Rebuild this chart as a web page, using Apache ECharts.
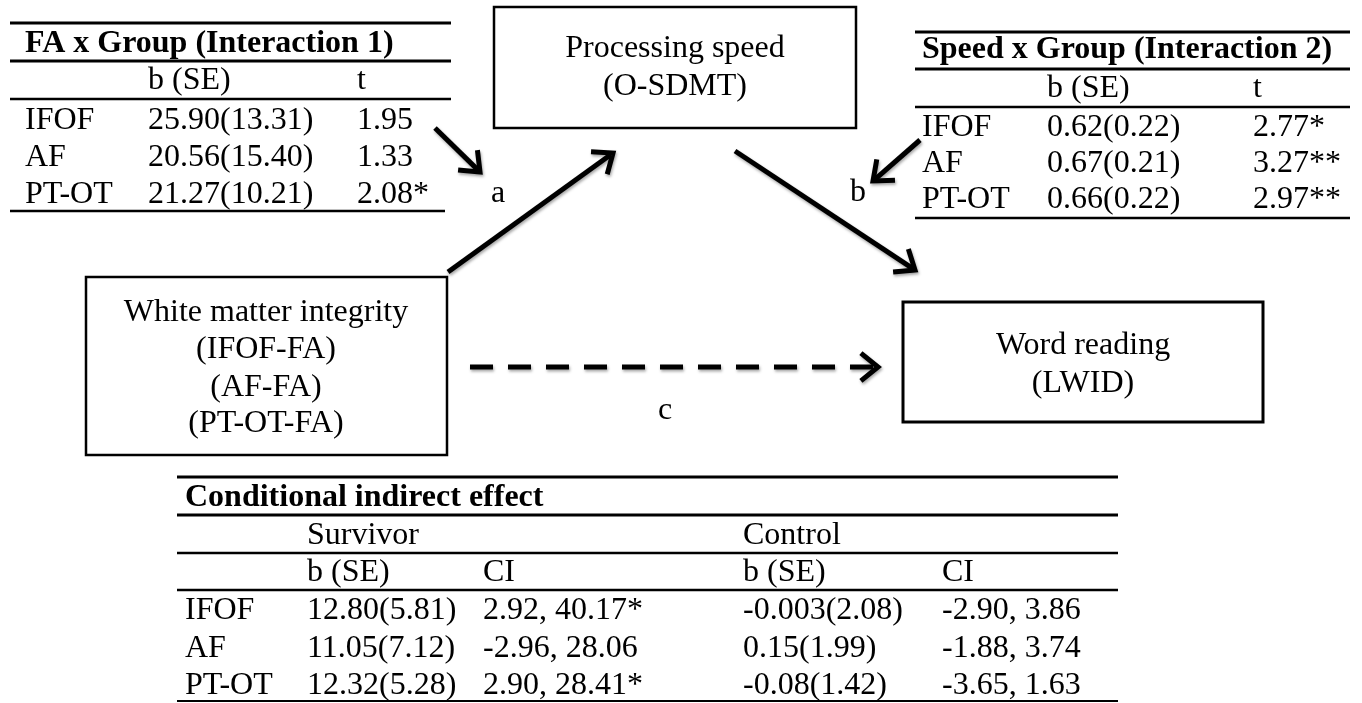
<!DOCTYPE html>
<html>
<head>
<meta charset="utf-8">
<script src="https://cdn.jsdelivr.net/npm/echarts@6/dist/echarts.min.js"></script>
<style>
html,body{margin:0;padding:0;background:#fff;}
#main{width:1362px;height:703px;}
</style>
</head>
<body>
<div id="main"></div>
<script>
// table data
var rowLabels = ['IFOF', 'AF', 'PT-OT'];
var int1Title = 'FA x Group (Interaction 1)';
var int1B = ['25.90(13.31)', '20.56(15.40)', '21.27(10.21)'];
var int1T = ['1.95', '1.33', '2.08*'];
var int2Title = 'Speed x Group (Interaction 2)';
var int2B = ['0.62(0.22)', '0.67(0.21)', '0.66(0.22)'];
var int2T = ['2.77*', '3.27**', '2.97**'];
var colHead = ['b (SE)', 't'];
var indTitle = 'Conditional indirect effect';
var groups = ['Survivor', 'Control'];
var indHead = ['b (SE)', 'CI', 'b (SE)', 'CI'];
var survB = ['12.80(5.81)', '11.05(7.12)', '12.32(5.28)'];
var survCI = ['2.92, 40.17*', '-2.96, 28.06', '2.90, 28.41*'];
var ctrlB = ['-0.003(2.08)', '0.15(1.99)', '-0.08(1.42)'];
var ctrlCI = ['-2.90, 3.86', '-1.88, 3.74', '-3.65, 1.63'];
var boxes = [
  ['Processing speed', '(O-SDMT)'],
  ['White matter integrity', '(IFOF-FA)', '(AF-FA)', '(PT-OT-FA)'],
  ['Word reading', '(LWID)']
];
var pathLabels = ['a', 'b', 'c'];

var FONT = '"Liberation Serif", "Times New Roman", serif';
var FS = 32;
var DY = 1; // small nudge so cap centres sit where the reference has them
var els = [];

function txt(s, x, y, bold, align) {
  els.push({
    type: 'text', x: x, y: y + DY,
    style: {
      text: s, fill: '#000',
      font: (bold ? 'bold ' : '') + FS + 'px ' + FONT,
      textAlign: align || 'left', textVerticalAlign: 'middle'
    }
  });
}
function hline(x1, x2, y, w) {
  els.push({ type: 'line', shape: { x1: x1, y1: y, x2: x2, y2: y }, style: { stroke: '#000', lineWidth: w || 2.5 } });
}
function box(x, y, w, h, lw) {
  els.push({ type: 'rect', shape: { x: x, y: y, width: w, height: h }, style: { fill: 'transparent', stroke: '#000', lineWidth: lw || 2.5 } });
}
var shadow = { shadowBlur: 3, shadowColor: 'rgba(0,0,0,0.35)', shadowOffsetX: 1, shadowOffsetY: 2 };
function arrow(x1, y1, x2, y2, dashed) {
  var ang = Math.atan2(y2 - y1, x2 - x1), L = 22, sp = 0.68;
  var st = Object.assign({ stroke: '#000', lineWidth: 5, lineCap: 'butt' }, shadow);
  if (dashed) st.lineDash = [23, 15];
  els.push({ type: 'line', shape: { x1: x1, y1: y1, x2: x2 - 3 * Math.cos(ang), y2: y2 - 3 * Math.sin(ang) }, style: st });
  els.push({
    type: 'polyline',
    shape: { points: [
      [x2 - L * Math.cos(ang - sp), y2 - L * Math.sin(ang - sp)],
      [x2, y2],
      [x2 - L * Math.cos(ang + sp), y2 - L * Math.sin(ang + sp)]
    ] },
    style: Object.assign({ stroke: '#000', fill: 'none', lineWidth: 5, lineJoin: 'miter' }, shadow)
  });
}

// interaction 1 table (top left)
hline(10, 451, 23, 3); hline(10, 451, 61, 3); hline(10, 451, 99, 2.5); hline(10, 445, 211, 2.5);
txt(int1Title, 25, 43, true);
txt(colHead[0], 148, 80); txt(colHead[1], 357, 80);
var r1 = [120, 157, 194];
rowLabels.forEach(function (l, i) {
  txt(l, 25, r1[i]); txt(int1B[i], 148, r1[i]); txt(int1T[i], 357, r1[i]);
});

// interaction 2 table (top right)
hline(915, 1350, 32, 3); hline(915, 1350, 69, 3); hline(915, 1350, 107, 2.5); hline(915, 1350, 218, 2.5);
txt(int2Title, 922, 49, true);
txt(colHead[0], 1047, 88); txt(colHead[1], 1253, 88);
var r2 = [127, 163, 199];
rowLabels.forEach(function (l, i) {
  txt(l, 922, r2[i]); txt(int2B[i], 1047, r2[i]); txt(int2T[i], 1253, r2[i]);
});

// boxes
box(494, 7, 362, 121, 2.5);
txt(boxes[0][0], 675, 48, false, 'center'); txt(boxes[0][1], 675, 86, false, 'center');
box(86, 277, 361, 178, 2.5);
[312, 349, 387, 423].forEach(function (y, i) { txt(boxes[1][i], 266, y, false, 'center'); });
box(903, 302, 360, 120, 3);
txt(boxes[2][0], 1083, 345, false, 'center'); txt(boxes[2][1], 1083, 383, false, 'center');

// paths
arrow(435, 128, 480, 172);
arrow(448, 272, 613, 153);
arrow(735, 151, 915, 270);
arrow(920, 140, 873, 181);
arrow(470, 367, 878, 367, true);
txt(pathLabels[0], 498, 193, false, 'center');
txt(pathLabels[1], 858, 192, false, 'center');
txt(pathLabels[2], 665, 410, false, 'center');

// conditional indirect effect table (bottom)
hline(177, 1118, 477, 3); hline(177, 1118, 515, 3); hline(177, 1118, 553, 2.5); hline(177, 1118, 590, 2.5); hline(177, 1118, 701, 2);
txt(indTitle, 185, 497, true);
txt(groups[0], 307, 535); txt(groups[1], 743, 535);
var cx = [307, 483, 743, 942];
indHead.forEach(function (h, i) { txt(h, cx[i], 572); });
var r3 = [610, 648, 685];
rowLabels.forEach(function (l, i) {
  txt(l, 185, r3[i]);
  txt(survB[i], cx[0], r3[i]); txt(survCI[i], cx[1], r3[i]);
  txt(ctrlB[i], cx[2], r3[i]); txt(ctrlCI[i], cx[3], r3[i]);
});

var chart = echarts.init(document.getElementById('main'));
chart.setOption({
  backgroundColor: '#fff',
  animation: false,
  graphic: { elements: els }
});
</script>
</body>
</html>
